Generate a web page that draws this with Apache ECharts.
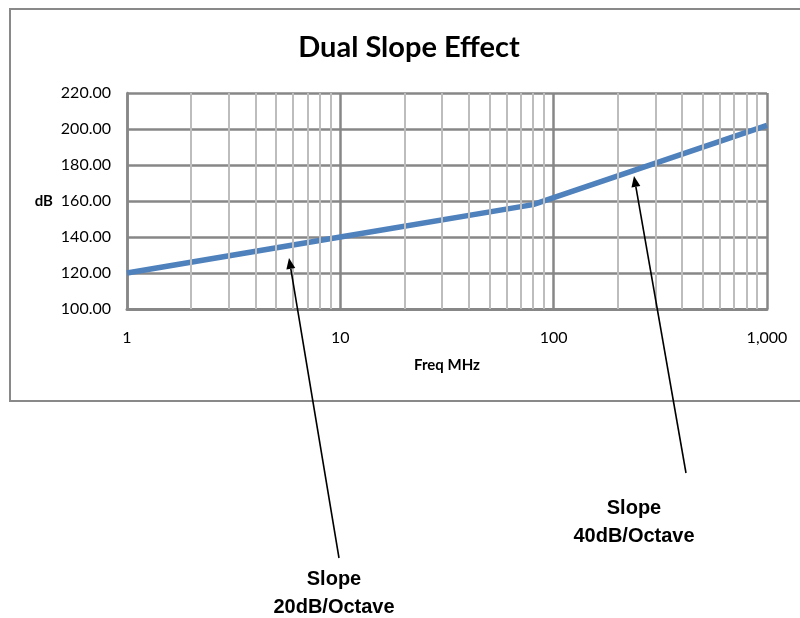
<!DOCTYPE html>
<html>
<head>
<meta charset="utf-8">
<script src="https://cdn.jsdelivr.net/npm/echarts@6/dist/echarts.min.js"></script>
<style>
html,body{margin:0;padding:0;background:#fff;}
#main{width:800px;height:618px;}
</style>
</head>
<body>
<div id="main"></div>
<script>
// Data
var freqMHz = [1, 10, 80, 1000];
var dBValues = [120, 140, 158, 202];
var minorGridFreqs = [2,3,4,5,6,7,8,9,20,30,40,50,60,70,80,90,200,300,400,500,600,700,800,900];
var yTicks = { min: 100, max: 220, step: 20 };
var titleText = 'Dual Slope Effect';
var xName = 'Freq MHz';
var yName = 'dB';
var annotations = [
  { text: 'Slope\n20dB/Octave', tip: [289, 258], tail: [339, 558], label: [334, 593] },
  { text: 'Slope\n40dB/Octave', tip: [634, 176], tail: [686, 473], label: [634, 522] }
];

var MAJOR = '#878787', MINOR = '#bdbdbd';

function arrowGraphics(a) {
  var dx = a.tip[0] - a.tail[0], dy = a.tip[1] - a.tail[1];
  var len = Math.sqrt(dx*dx + dy*dy);
  var ux = dx/len, uy = dy/len;
  var hl = 11, hw = 4.5;
  var bx = a.tip[0] - ux*hl, by = a.tip[1] - uy*hl;
  var px = -uy, py = ux;
  return [
    { type: 'line', shape: { x1: a.tail[0], y1: a.tail[1], x2: bx, y2: by },
      style: { stroke: '#000', lineWidth: 1.6 }, silent: true, z: 10 },
    { type: 'polygon', shape: { points: [a.tip, [bx + px*hw, by + py*hw], [bx - px*hw, by - py*hw]] },
      style: { fill: '#000' }, silent: true, z: 10 },
    { type: 'text', x: a.label[0], y: a.label[1], silent: true, z: 10,
      style: { text: a.text, fill: '#000', font: 'bold 20px "Liberation Sans", Arial, sans-serif',
        align: 'center', verticalAlign: 'middle', lineHeight: 28 } }
  ];
}

var graphics = [
  { type: 'rect', shape: { x: 10, y: 9, width: 820, height: 392 },
    style: { fill: 'none', stroke: '#898989', lineWidth: 2 }, silent: true, z: -1 }
];
annotations.forEach(function(a){ graphics = graphics.concat(arrowGraphics(a)); });

var chart = echarts.init(document.getElementById('main'), null, { renderer: 'canvas' });
chart.setOption({
  animation: false,
  backgroundColor: '#fff',
  title: {
    text: titleText, left: 404, top: 28, textAlign: 'center',
    textStyle: { fontFamily: 'Lato', fontWeight: 'bold', fontSize: 29, color: '#000' }
  },
  grid: { left: 127, right: 33, top: 93, bottom: 309, containLabel: false },
  xAxis: {
    type: 'log', logBase: 10, min: 1, max: 1000, z: 1,
    name: xName, nameLocation: 'middle', nameGap: 49,
    nameTextStyle: { fontFamily: 'Lato', fontWeight: 'bold', fontSize: 15, color: '#000' },
    axisLine: { show: true, lineStyle: { color: MAJOR, width: 3 } },
    axisTick: { show: false },
    splitLine: { show: true, lineStyle: { color: MAJOR, width: 2.5 } },
    axisLabel: { margin: 21, fontFamily: 'Lato', fontSize: 16, color: '#000',
      formatter: function(v){ return Number(v).toLocaleString('en-US'); } }
  },
  yAxis: {
    type: 'value', min: yTicks.min, max: yTicks.max, interval: yTicks.step, z: 1,
    name: yName, nameLocation: 'middle', nameRotate: 0, nameGap: 74,
    nameTextStyle: { fontFamily: 'Lato', fontWeight: 'bold', fontSize: 15, color: '#000' },
    axisLine: { show: true, lineStyle: { color: MAJOR, width: 2.5 } },
    axisTick: { show: false },
    splitLine: { show: true, lineStyle: { color: MAJOR, width: 2.5 } },
    axisLabel: { margin: 16, fontFamily: 'Lato', fontSize: 16, color: '#000',
      formatter: function(v){ return v.toFixed(2); } }
  },
  series: [
    {
      type: 'line', data: [], z: 0, silent: true,
      markLine: {
        silent: true, symbol: ['none', 'none'], animation: false,
        label: { show: false },
        lineStyle: { color: MINOR, width: 2, type: 'solid' },
        emphasis: { disabled: true },
        data: minorGridFreqs.map(function(f){ return { xAxis: f }; })
      }
    },
    {
      type: 'line', z: 3,
      data: freqMHz.map(function(f, i){ return [f, dBValues[i]]; }),
      symbol: 'none', smooth: false,
      lineStyle: { color: '#4F81BD', width: 5.5 }
    }
  ],
  graphic: graphics
});
</script>
</body>
</html>
